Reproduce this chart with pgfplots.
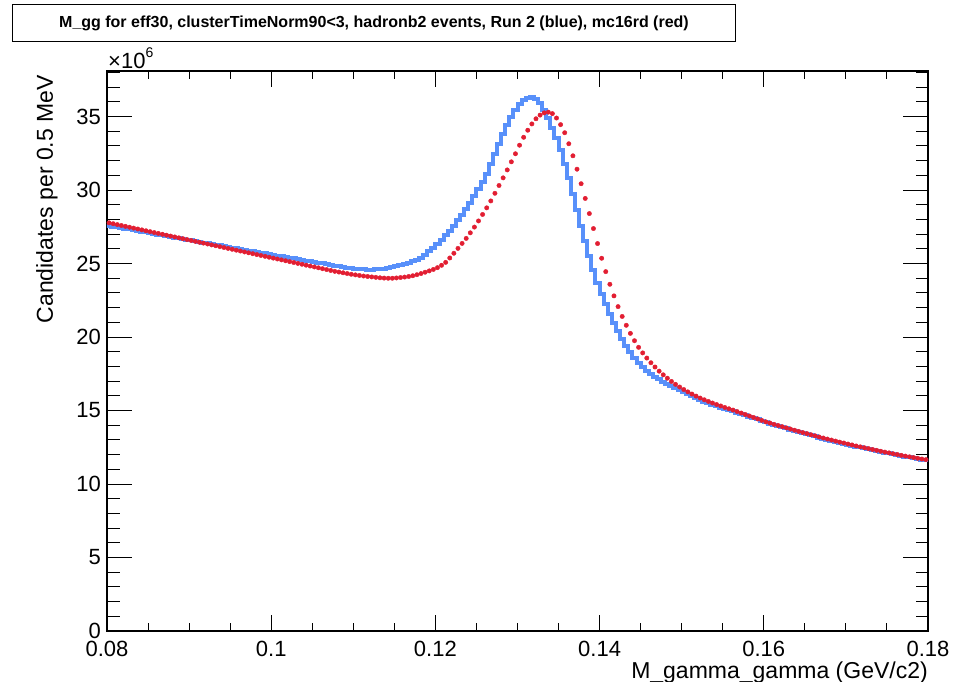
\documentclass[border=0pt]{standalone}
\usepackage{fontspec}
\setmainfont{Liberation Sans}
\usepackage{pgfplots}
\pgfplotsset{compat=1.18}
\usepackage{pgfplotstable}
\definecolor{rootblue}{RGB}{88,144,250}
\definecolor{rootred}{RGB}{226,30,50}

\pgfplotstableread{
c b r
0.08025 27.57 27.77
0.08075 27.52 27.71
0.08125 27.47 27.65
0.08175 27.42 27.59
0.08225 27.37 27.53
0.08275 27.32 27.47
0.08325 27.27 27.41
0.08375 27.22 27.35
0.08425 27.17 27.29
0.08475 27.12 27.23
0.08525 27.07 27.17
0.08575 27.02 27.11
0.08625 26.97 27.05
0.08675 26.92 26.99
0.08725 26.87 26.93
0.08775 26.82 26.87
0.08825 26.77 26.81
0.08875 26.72 26.75
0.08925 26.67 26.69
0.08975 26.62 26.63
0.09025 26.57 26.57
0.09075 26.52 26.51
0.09125 26.47 26.45
0.09175 26.42 26.39
0.09225 26.37 26.33
0.09275 26.33 26.27
0.09325 26.28 26.21
0.09375 26.23 26.15
0.09425 26.18 26.09
0.09475 26.13 26.03
0.09525 26.08 25.97
0.09575 26.03 25.91
0.09625 25.98 25.85
0.09675 25.93 25.79
0.09725 25.88 25.73
0.09775 25.84 25.67
0.09825 25.79 25.61
0.09875 25.74 25.55
0.09925 25.69 25.49
0.09975 25.64 25.43
0.10025 25.59 25.37
0.10075 25.54 25.31
0.10125 25.49 25.25
0.10175 25.45 25.19
0.10225 25.40 25.13
0.10275 25.35 25.07
0.10325 25.30 25.01
0.10375 25.25 24.95
0.10425 25.20 24.89
0.10475 25.16 24.83
0.10525 25.11 24.77
0.10575 25.06 24.71
0.10625 25.01 24.65
0.10675 24.96 24.59
0.10725 24.91 24.53
0.10775 24.86 24.47
0.10825 24.81 24.42
0.10875 24.76 24.37
0.10925 24.72 24.32
0.10975 24.68 24.27
0.11025 24.65 24.23
0.11075 24.62 24.19
0.11125 24.60 24.15
0.11175 24.59 24.12
0.11225 24.59 24.09
0.11275 24.60 24.06
0.11325 24.62 24.03
0.11375 24.65 24.01
0.11425 24.69 24.00
0.11475 24.74 24.00
0.11525 24.80 24.02
0.11575 24.87 24.05
0.11625 24.95 24.08
0.11675 25.04 24.12
0.11725 25.14 24.17
0.11775 25.26 24.24
0.11825 25.41 24.32
0.11875 25.60 24.41
0.11925 25.82 24.50
0.11975 26.06 24.60
0.12025 26.33 24.72
0.12075 26.62 24.88
0.12125 26.92 25.08
0.12175 27.24 25.38
0.12225 27.58 25.70
0.12275 27.94 26.03
0.12325 28.32 26.37
0.12375 28.72 26.71
0.12425 29.14 27.09
0.12475 29.58 27.48
0.12525 30.04 27.90
0.12575 30.52 28.34
0.12625 31.10 28.79
0.12675 31.75 29.26
0.12725 32.45 29.78
0.12775 33.15 30.31
0.12825 33.80 30.83
0.12875 34.40 31.37
0.12925 34.95 31.92
0.12975 35.45 32.47
0.13025 35.85 33.05
0.13075 36.12 33.59
0.13125 36.28 34.07
0.13175 36.30 34.50
0.13225 36.18 34.85
0.13275 35.90 35.10
0.13325 35.45 35.25
0.13375 34.90 35.30
0.13425 34.25 35.20
0.13475 33.55 34.90
0.13525 32.75 34.45
0.13575 31.80 33.90
0.13625 30.80 33.15
0.13675 29.72 32.33
0.13725 28.65 31.42
0.13775 27.56 30.43
0.13825 26.50 29.43
0.13875 25.50 28.40
0.13925 24.55 27.38
0.13975 23.70 26.36
0.14025 22.95 25.36
0.14075 22.25 24.45
0.14125 21.58 23.59
0.14175 20.95 22.80
0.14225 20.38 22.07
0.14275 19.85 21.40
0.14325 19.38 20.80
0.14375 18.95 20.25
0.14425 18.57 19.75
0.14475 18.25 19.30
0.14525 17.97 18.92
0.14575 17.72 18.57
0.14625 17.50 18.25
0.14675 17.30 17.96
0.14725 17.12 17.68
0.14775 16.95 17.43
0.14825 16.79 17.20
0.14875 16.64 16.98
0.14925 16.50 16.78
0.14975 16.37 16.60
0.15025 16.25 16.43
0.15075 16.10 16.27
0.15125 15.96 16.12
0.15175 15.82 15.98
0.15225 15.70 15.85
0.15275 15.59 15.73
0.15325 15.48 15.62
0.15375 15.38 15.51
0.15425 15.29 15.41
0.15475 15.20 15.31
0.15525 15.11 15.21
0.15575 15.03 15.12
0.15625 14.95 15.03
0.15675 14.86 14.93
0.15725 14.77 14.83
0.15775 14.68 14.73
0.15825 14.59 14.63
0.15875 14.49 14.53
0.15925 14.40 14.43
0.15975 14.30 14.33
0.16025 14.20 14.23
0.16075 14.11 14.15
0.16125 14.02 14.06
0.16175 13.94 13.98
0.16225 13.86 13.90
0.16275 13.78 13.82
0.16325 13.70 13.74
0.16375 13.62 13.66
0.16425 13.54 13.58
0.16475 13.46 13.50
0.16525 13.39 13.43
0.16575 13.31 13.35
0.16625 13.24 13.28
0.16675 13.16 13.20
0.16725 13.09 13.13
0.16775 13.02 13.06
0.16825 12.95 12.99
0.16875 12.88 12.92
0.16925 12.81 12.85
0.16975 12.75 12.79
0.17025 12.68 12.72
0.17075 12.62 12.66
0.17125 12.55 12.59
0.17175 12.49 12.53
0.17225 12.43 12.47
0.17275 12.37 12.41
0.17325 12.31 12.35
0.17375 12.25 12.29
0.17425 12.19 12.23
0.17475 12.13 12.17
0.17525 12.08 12.12
0.17575 12.02 12.06
0.17625 11.97 12.01
0.17675 11.91 11.95
0.17725 11.86 11.90
0.17775 11.81 11.85
0.17825 11.76 11.80
0.17875 11.71 11.75
0.17925 11.66 11.70
0.17975 11.62 11.66
}\mggdata

\begin{document}
\begin{tikzpicture}
\useasboundingbox (-107pt,-50pt) rectangle (852pt,631pt);
\begin{axis}[
  at={(0pt,0pt)}, anchor=south west,
  scale only axis, width=821pt, height=560pt,
  xmin=0.08, xmax=0.18, ymin=0, ymax=38.1,
  axis line style={line width=1.1pt},
  xtick={0.08,0.1,0.12,0.14,0.16,0.18},
  xticklabels={0.08,0.1,0.12,0.14,0.16,0.18},
  minor xtick={0.085,0.09,0.095,0.105,0.11,0.115,0.125,0.13,0.135,0.145,0.15,0.155,0.165,0.17,0.175},
  ytick={0,5,10,15,20,25,30,35},
  yticklabels={0,5,10,15,20,25,30,35},
  minor ytick={1,2,3,4,6,7,8,9,11,12,13,14,16,17,18,19,21,22,23,24,26,27,28,29,31,32,33,34,36,37,38},
  tick align=inside,
  xtick style={line width=1pt, black, /pgfplots/major tick length=16pt, /pgfplots/minor tick length=8pt},
  ytick style={line width=1pt, black, /pgfplots/major tick length=25pt, /pgfplots/minor tick length=12.5pt},
  scaled ticks=false,
  tick label style={font=\fontsize{22}{26}\selectfont, inner sep=0pt},
  xticklabel style={anchor=north, yshift=-10pt},
  yticklabel style={anchor=east, xshift=-6pt},
]
\addplot[const plot mark mid, rootblue, line width=4pt] table[x=c, y=b] {\mggdata};
\addplot[rootblue, line width=4pt] coordinates {(0.0799,27.57) (0.08025,27.57)};
\addplot[rootblue, line width=4pt] coordinates {(0.17975,11.62) (0.1801,11.62)};
\addplot[only marks, mark=*, mark size=2.2pt, rootred, mark options={draw=rootred, fill=rootred}] table[x=c, y=r] {\mggdata};
\end{axis}
\draw[line width=1pt] (-94pt,589pt) rectangle (628pt,626pt);
\node[font=\bfseries\fontsize{16}{18}\selectfont, inner sep=0pt] at (267pt,607.5pt) {M\_gg for eff30, clusterTimeNorm90<3, hadronb2 events, Run 2 (blue), mc16rd (red)};
\node[anchor=base west, font=\fontsize{22}{26}\selectfont, inner sep=0pt] at (1pt,562pt) {×10\raisebox{0.5em}{\fontsize{14}{16}\selectfont 6}};
\node[rotate=90, anchor=base east, font=\fontsize{23}{27}\selectfont, inner sep=0pt] at (-54pt,556pt) {Candidates per 0.5 MeV};
\node[anchor=base east, font=\fontsize{23}{27}\selectfont, inner sep=0pt] at (821pt,-47pt) {M\_gamma\_gamma (GeV/c2)};
\end{tikzpicture}
\end{document}
